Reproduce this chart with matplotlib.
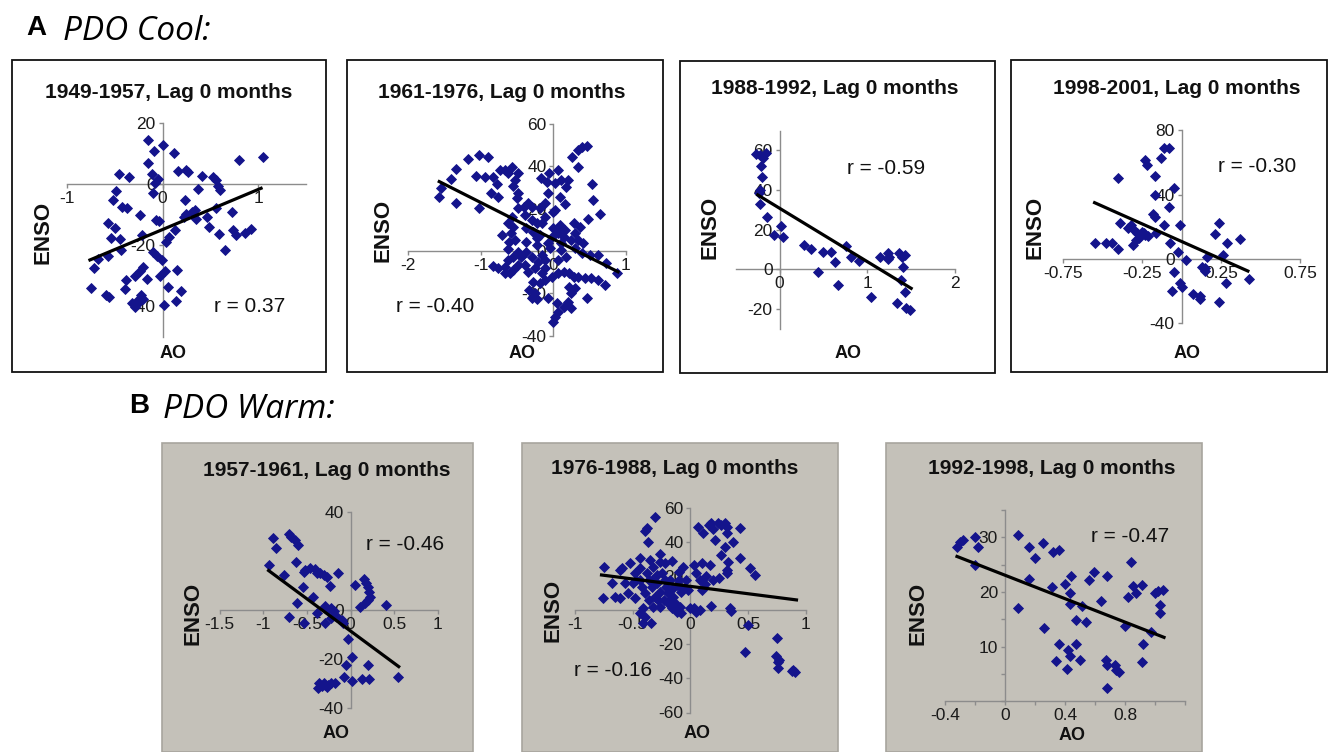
import matplotlib
matplotlib.use("Agg")
import matplotlib.pyplot as plt
from matplotlib.patches import Rectangle
from matplotlib.ticker import FixedLocator, NullFormatter

plt.rcParams['font.family'] = ['Liberation Sans', 'DejaVu Sans']

# ---------------- data ----------------
titles = ["1949-1957, Lag 0 months", "1961-1976, Lag 0 months", "1988-1992, Lag 0 months",
          "1998-2001, Lag 0 months", "1957-1961, Lag 0 months", "1976-1988, Lag 0 months",
          "1992-1998, Lag 0 months"]
r_labels = ["r = 0.37", "r = -0.40", "r = -0.59", "r = -0.30", "r = -0.46", "r = -0.16", "r = -0.47"]

a1_ao = [-0.15, 0.00, -0.09, 0.12, 1.05, 0.80, -0.15, 0.16, 0.24, 0.27, -0.46, -0.35, -0.11, 0.41,
         0.53, 0.56, -0.05, -0.08, 0.58, 0.60, 0.37, -0.49, -0.10, 0.23, -0.52, -0.42, -0.37, 0.56,
         0.73, 0.24, 0.31, 0.34, 0.22, 0.46, 0.35, -0.24, -0.07, -0.04, -0.57, 0.49, -0.50, 0.59,
         0.13, 0.74, 0.77, 0.86, 0.92, -0.54, -0.45, -0.22, 0.07, 0.04, 0.65, -0.44, -0.10, -0.06,
         -0.01, -0.68, -0.57, -0.72, -0.20, -0.24, -0.29, -0.38, -0.16, 0.02, -0.03, 0.15, -0.39,
         0.06, -0.75, -0.59, -0.56, 0.19, 0.14, -0.23, -0.20, -0.27, -0.29, 0.01, -0.32, -0.26]
a1_enso = [14.4, 12.8, 10.9, 10.3, 9.0, 7.9, 6.8, 4.4, 4.6, 3.8, 3.3, 2.4, 3.3, 2.6,
           2.2, 1.3, 1.5, 0.4, -0.7, -2.0, -1.7, -2.2, -3.1, -5.2, -5.2, -7.4, -8.0, -8.0,
           -9.1, -9.8, -9.1, -8.5, -10.7, -10.7, -11.6, -10.2, -11.8, -12.0, -12.7, -14.0, -14.5, -16.4,
           -15.1, -15.1, -16.7, -16.2, -14.9, -17.8, -18.1, -16.7, -17.3, -18.9, -21.6, -21.6, -22.2, -23.6,
           -24.9, -24.7, -23.6, -27.7, -27.1, -28.4, -30.2, -31.5, -31.3, -28.4, -30.2, -28.2, -34.5,
           -33.7, -34.2, -36.4, -36.9, -35.0, -38.3, -36.4, -37.8, -38.3, -40.2, -39.7, -39.1, -38.9]
a1_trend_ao = [-0.76, 1.03]
a1_trend_enso = [-24.9, -1.4]

a2_ao = [-1.57, -1.41, -1.54, -1.34, -1.17, -1.02, -0.90, -1.34, -1.06, -0.94, -0.83, -1.02, -0.86,
         -0.78, -0.73, -0.76, -0.67, -0.57, -0.62, -0.48, -0.53, -0.55, -0.48, -0.50, -0.41, -0.35,
         -0.48, -0.57, -0.63, -0.58, -0.53, -0.39, -0.30, -0.30, -0.37, -0.28, -0.18, -0.16, -0.17,
         -0.09, -0.06, 0.02, -0.08, -0.11, 0.02, 0.00, 0.07, 0.11, 0.18, 0.09, 0.16, 0.20, 0.26,
         0.34, 0.39, 0.47, 0.34, 0.53, 0.54, 0.64, 0.48, 0.29, 0.09, 0.00, 0.07, 0.14, 0.25, -0.07,
         -0.16, -0.23, -0.11, -0.05, 0.11, 0.18, 0.07, 0.30, 0.39, 0.50, 0.62, 0.73, 0.87, 0.71,
         0.62, 0.52, 0.44, 0.34, 0.46, 0.28, 0.21, 0.14, 0.07, -0.02, -0.11, -0.18, -0.28, -0.34,
         -0.25, -0.30, -0.23, -0.07, 0.05, 0.14, 0.20, 0.25, 0.07, 0.02, 0.00, 0.25, 0.30, 0.21,
         -0.48, -0.44, -0.48, -0.55, -0.63, -0.67, -0.55, -0.60, -0.67, -0.83, -0.76, -0.39, -0.35,
         -0.11, -0.25, -0.16, -0.21, -0.30, -0.37, -0.62, -0.61, -0.71, -0.55, -0.02, 0.16, 0.30,
         0.34, 0.41, 0.37, -0.18, -0.37, -0.23, 0.11, -0.12, -0.23]
a2_enso = [25.4, 33.9, 29.6, 22.5, 43.3, 45.4, 44.3, 38.6, 35.4, 35.1, 34.8, 20.5, 27.6,
           31.7, 38.3, 25.4, 38.3, 39.5, 36.7, 36.7, 33.5, 30.7, 27.6, 24.9, 21.0, 22.5,
           20.2, 16.2, 13.1, 8.3, 5.2, 17.0, 21.0, 14.6, 10.7, 9.1, 20.2, 13.1, 34.3,
           32.8, 36.7, 32.0, 27.2, 22.5, 19.4, 18.6, 38.3, 33.5, 30.4, 25.7, 22.2, 33.5, 44.3,
           47.7, 49.0, 49.6, 39.5, 31.7, 24.1, 17.5, 15.0, 13.1, 12.3, 10.7, 8.3, 6.8, 5.2, 3.6,
           -1.9, 2.8, -4.3, 1.3, 0.5, -2.7, -4.3, 1.3, -1.1, -1.9, -1.9, -5.8, -10.6, -16.1,
           -13.7, -12.9, -12.9, -12.1, -22.4, -12.1, -10.6, -9.8, -10.6, -12.1, -13.7, -15.3, -14.5, -18.4,
           -20.0, -22.4, -22.8, -22.4, -24.7, -26.3, -23.9, -27.1, -28.7, -31.0, -33.4, -20.0, -17.6, -16.9,
           -6.6, -2.7, -0.3, -2.7, -4.3, -7.4, -9.0, -10.6, -10.6, -7.1, -8.2, -6.6, -9.8,
           -8.2, -8.2, -10.6, -5.0, -2.7, -0.3, 0.8, 4.4, 7.6, 11.5, 6.8, 9.9, 8.3,
           5.2, 3.9, 11.5, 7.6, 4.4, 6.0, 3.6, 16.2, 13.1]
a2_trend_ao = [-1.57, 0.89]
a2_trend_enso = [32.8, -9.8]

a3_ao = [-0.27, -0.22, -0.16, -0.19, -0.21, -0.20, -0.22, -0.23, -0.22, -0.14, -0.07, 0.01, 0.04,
         0.28, 0.36, 0.44, 0.50, 0.59, 0.63, 0.66, 0.76, 0.81, 0.90, 1.04, 1.15, 1.24, 1.24, 1.25,
         1.36, 1.39, 1.41, 1.43, 1.38, 1.34, 1.43, 1.44, 1.49]
a3_enso = [58.2, 57.6, 58.8, 56.0, 52.1, 46.4, 40.0, 38.3, 32.9, 26.6, 17.3, 22.0, 16.5,
           12.3, 10.1, -1.2, 8.9, 8.9, 3.9, -7.9, 11.8, 6.4, 4.2, -14.1, 6.4, 8.4, 5.0, 6.4,
           8.1, 6.4, 1.3, 7.2, -5.4, -17.1, -11.3, -19.7, -20.5]
a3_trend_ao = [-0.25, 1.50]
a3_trend_enso = [37.5, -9.6]

a4_ao = [-0.55, -0.48, -0.44, -0.40, -0.40, -0.39, -0.34, -0.32, -0.31, -0.30, -0.29, -0.28, -0.27,
         -0.25, -0.24, -0.23, -0.21, -0.23, -0.22, -0.18, -0.17, -0.17, -0.17, -0.16, -0.13, -0.11,
         -0.08, -0.11, -0.08, -0.07, -0.05, -0.01, -0.05, -0.02, -0.06, -0.01, 0.00, 0.03, 0.07, 0.12,
         0.12, 0.13, 0.15, 0.15, 0.16, 0.21, 0.24, 0.24, 0.26, 0.28, 0.29, 0.37, 0.43]
a4_enso = [10.1, 9.7, 9.7, 6.0, 50.1, 22.2, 19.0, 21.1, 8.7, 18.0, 11.8, 15.9, 12.8,
           17.0, 15.9, 14.9, 14.3, 61.5, 58.4, 28.0, 25.9, 39.8, 51.6, 15.9, 62.5, 68.7,
           68.7, 21.1, 32.1, 10.1, 43.9, 21.1, -7.9, 4.6, -19.7, -15.1, -17.2, -0.6, -21.7, -23.0,
           -25.1, -5.2, -5.8, -7.2, 1.0, 15.3, 22.2, -26.5, 2.5, -14.7, 10.1, 12.4, -12.6]
a4_trend_ao = [-0.55, 0.42]
a4_trend_enso = [35.0, -7.5]

b1_ao = [-0.89, -0.71, -0.68, -0.64, -0.60, -0.85, -0.94, -0.63, -0.76, -0.54, -0.47, -0.52, -0.41,
         -0.39, -0.35, -0.31, -0.27, -0.14, -0.24, -0.55, -0.43, -0.61, -0.71, -0.53, -0.39, -0.29,
         -0.26, -0.22, -0.19, -0.29, -0.22, -0.16, -0.10, -0.09, -0.03, 0.01, -0.05, 0.05, 0.15,
         0.18, 0.20, 0.21, 0.22, 0.20, 0.16, 0.11, 0.40, 0.20, 0.54, 0.21, 0.13, 0.02, -0.08, -0.18,
         -0.22, -0.26, -0.29, -0.33, -0.36, -0.37, -0.31, -0.27]
b1_enso = [29.3, 31.0, 29.9, 28.6, 26.5, 25.2, 18.4, 19.7, 14.3, 15.6, 17.0, 16.3, 16.6,
           15.2, 15.0, 14.3, 13.6, 15.2, 9.8, 9.3, 5.2, 2.7, -2.7, -5.2, -1.4, 1.6,
           0.0, 0.7, -0.3, -5.2, -3.4, -2.7, -4.1, -5.4, -12.0, -19.0, -22.4, 10.2, 12.5,
           11.2, 9.5, 7.5, 5.4, 4.1, 2.7, 1.4, 2.0, -22.4, -27.2, -28.3, -28.3, -28.8, -27.5, -29.7,
           -29.9, -30.6, -30.6, -31.0, -29.9, -32.0, -29.7, -31.3]
b1_trend_ao = [-0.94, 0.55]
b1_trend_enso = [16.1, -23.1]

b2_ao = [-0.75, -0.76, -0.68, -0.65, -0.61, -0.59, -0.57, -0.54, -0.48, -0.48, -0.50, -0.47, -0.44,
         -0.42, -0.39, -0.36, -0.33, -0.32, -0.31, -0.29, -0.26, -0.25, -0.23, -0.21, -0.19, -0.18,
         -0.15, -0.12, -0.10, -0.08, -0.06, -0.04, -0.02, -0.09, -0.16, -0.19, -0.12, -0.08, -0.32,
         -0.36, -0.41, -0.44, -0.39, -0.34, -0.41, -0.38, -0.39, -0.31, -0.37, -0.26, -0.16, -0.26,
         -0.22, -0.35, -0.44, -0.52, -0.61, 0.03, 0.10, 0.05, 0.08, 0.14, 0.13, 0.10, 0.07, 0.11,
         0.16, 0.18, 0.20, 0.21, 0.24, 0.27, 0.30, 0.32, 0.32, 0.37, 0.43, 0.43, 0.30, 0.27, 0.33,
         0.32, 0.32, 0.25, 0.20, 0.17, 0.52, 0.56, 0.18, 0.34, 0.35, 0.08, 0.03, 0.05, 0.00, -0.10,
         -0.15, -0.07, -0.22, -0.29, -0.33, -0.38, -0.44, -0.28, -0.26, -0.18, -0.13, 0.50, 0.47,
         0.75, 0.74, 0.76, 0.76, 0.77, 0.88, 0.91, 0.89]
b2_enso = [25.4, 6.8, 15.6, 7.8, 6.8, 24.4, 15.6, 9.8, 6.8, 21.5, 15.6, 17.6, 24.4,
           13.7, 9.8, 17.6, 13.7, 25.4, 7.8, 15.6, 10.7, 21.5, 5.9, 13.7, 9.8, 17.6,
           7.8, 14.6, 22.4, 10.7, 25.4, 17.6, 11.7, 2.0, 1.0, 3.9, -1.0, -2.0, 2.0,
           5.9, 1.0, -2.0, -3.9, -7.8, -7.4, 48.2, 46.4, 54.2, 40.0, 32.8, 28.9, 28.3,
           27.3, 29.3, 30.2, 27.3, 23.4, 26.3, 27.3, 21.5, 17.6, 19.9, 15.2, 11.7, 48.4, 44.9,
           49.8, 51.1, 47.2, 41.0, 50.7, 49.8, 51.1, 48.4, 44.9, 40.0, 47.8, 30.2, 36.7, 32.2, 28.3,
           23.4, 21.5, 18.5, 17.6, 26.3, 24.4, 20.5, 2.3, 1.0, -0.4, 0.0, 1.0, -1.0, 1.0, 17.6,
           12.7, 12.7, 17.6, 20.5, 17.6, 21.5, 17.6, 5.9, 2.0, 5.9, 3.9, -8.8, -24.4,
           -16.6, -26.9, -30.2, -34.1, -29.3, -35.5, -36.1, -35.1]
b2_trend_ao = [-0.77, 0.92]
b2_trend_enso = [20.5, 5.9]

b3_ao = [-0.32, -0.30, -0.28, -0.20, -0.18, -0.20, 0.09, 0.16, 0.20, 0.25, 0.32, 0.36, 0.16,
         0.09, 0.31, 0.40, 0.44, 0.43, 0.43, 0.51, 0.56, 0.59, 0.64, 0.68, 0.54, 0.47, 0.26,
         0.36, 0.47, 0.42, 0.43, 0.34, 0.41, 0.50, 0.67, 0.68, 0.73, 0.74, 0.76, 0.68, 0.80,
         0.82, 0.84, 0.85, 0.87, 0.91, 0.92, 0.91, 0.97, 1.00, 1.03, 1.03, 1.02, 1.05]
b3_enso = [28.3, 29.2, 29.6, 30.0, 28.3, 24.9, 30.4, 28.3, 26.3, 29.0, 27.4, 27.7, 22.3,
           17.0, 21.0, 21.5, 22.9, 19.8, 17.8, 17.4, 22.2, 23.7, 18.4, 22.9, 14.6, 14.8, 13.4,
           10.5, 10.5, 9.4, 8.3, 7.3, 6.0, 7.6, 7.6, 6.6, 6.6, 5.7, 5.4, 2.4, 13.8,
           19.1, 25.4, 21.1, 19.9, 21.3, 10.5, 7.1, 12.6, 19.9, 17.6, 16.2, 20.1, 20.4]
b3_trend_ao = [-0.32, 1.06]
b3_trend_enso = [26.5, 11.7]

# axis ranges and tick values (Excel-style)
xlims = [(-1, 1.5), (-2, 1), (-0.5, 2), (-0.75, 0.75), (-1.5, 1), (-1, 1), (-0.4, 1.2)]
ylims = [(-50, 20), (-40, 60), (-30, 70), (-40, 80), (-40, 40), (-60, 60), (0, 35)]
xticks = [[-1, 0, 1], [-2, -1, 0, 1], [0, 1, 2], [-0.75, -0.25, 0.25, 0.75],
          [-1.5, -1, -0.5, 0, 0.5, 1], [-1, -0.5, 0, 0.5, 1], [-0.4, 0, 0.4, 0.8]]
xticklabels = [["-1", "0", "1"], ["-2", "-1", "0", "1"], ["0", "1", "2"],
               ["-0.75", "-0.25", "0.25", "0.75"], ["-1.5", "-1", "-0.5", "0", "0.5", "1"],
               ["-1", "-0.5", "0", "0.5", "1"], ["-0.4", "0", "0.4", "0.8"]]
yticks = [[20, 0, -20, -40], [60, 40, 20, 0, -20, -40], [60, 40, 20, 0, -20],
          [80, 40, 0, -40], [40, 0, -20, -40], [60, 40, 20, 0, -20, -40, -60], [10, 20, 30]]
yticklabels = [["20", "0", "-20", "-40"], ["60", "40", "20", "0", "-20", "-40"],
               ["60", "40", "20", "0", "-20"], ["80", "40", "0", "-40"],
               ["40", "0", "-20", "-40"], ["60", "40", "20", "0", "-20", "-40", "-60"],
               ["10", "20", "30"]]
b3_minor_x = [-0.2, 0.2, 0.6, 1.0, 1.2]
b3_minor_y = [0, 5, 15, 25, 35]

series = [(a1_ao, a1_enso, a1_trend_ao, a1_trend_enso),
          (a2_ao, a2_enso, a2_trend_ao, a2_trend_enso),
          (a3_ao, a3_enso, a3_trend_ao, a3_trend_enso),
          (a4_ao, a4_enso, a4_trend_ao, a4_trend_enso),
          (b1_ao, b1_enso, b1_trend_ao, b1_trend_enso),
          (b2_ao, b2_enso, b2_trend_ao, b2_trend_enso),
          (b3_ao, b3_enso, b3_trend_ao, b3_trend_enso)]

# ---------------- layout (pixel positions in a 1334x752 canvas) ----------------
W, H = 1334, 752
# plot area: left, right, top, bottom
plot_px = [(67, 306, 123, 336.5), (408, 626, 124, 335.7), (735.8, 955, 130.5, 328.8),
           (1063, 1300, 130.3, 323.3), (219.7, 438, 512, 708), (575, 805.7, 507.5, 712.5),
           (945, 1185, 510, 701.3)]
frame_px = [(12, 326, 60, 372), (347, 663, 60, 372), (680, 995, 61, 373), (1011, 1327, 60, 372),
            (162, 473, 443, 752), (522, 838, 443, 752), (886, 1202, 443, 752)]
title_px = [(169, 92), (502, 92), (835, 88), (1177, 88), (327, 470), (675, 468), (1052, 468)]
enso_px = [(43, 232), (383, 230), (710, 227), (1035, 227), (193, 613), (553, 610), (918, 613)]
ao_px = [(173, 353), (522, 353), (848, 353), (1187, 353), (336, 733), (697, 733), (1072, 735)]
r_px = [(250, 306), (435, 306), (886, 168), (1257, 167), (405, 545), (613, 670), (1130, 537)]


def fx(x):
    return x / W


def fy(y):
    return 1 - y / H


fig = plt.figure(figsize=(W / 100, H / 100), dpi=100)
fig.patch.set_facecolor('white')

marker_color = '#14148c'
axis_color = '#8c8c8c'
warm_bg = '#c4c1b9'

for i in range(7):
    # panel frame
    l, r, t, b = frame_px[i]
    if i < 4:
        rect = Rectangle((fx(l), fy(b)), fx(r) - fx(l), fy(t) - fy(b), transform=fig.transFigure,
                         facecolor='white', edgecolor='#111111', linewidth=1.3, zorder=0)
    else:
        rect = Rectangle((fx(l), fy(b)), fx(r) - fx(l), fy(t) - fy(b), transform=fig.transFigure,
                         facecolor=warm_bg, edgecolor='#a8a59e', linewidth=1.2, zorder=0)
    fig.add_artist(rect)

    pl, pr, pt, pb = plot_px[i]
    ax = fig.add_axes([fx(pl), fy(pb), fx(pr) - fx(pl), fy(pt) - fy(pb)])
    ax.set_facecolor('none')
    ax.set_xlim(*xlims[i])
    ax.set_ylim(*ylims[i])
    for s in ['top', 'right']:
        ax.spines[s].set_visible(False)
    ax.spines['left'].set_position(('data', 0))
    ax.spines['bottom'].set_position(('data', max(0, ylims[i][0])))
    for s in ['left', 'bottom']:
        ax.spines[s].set_color(axis_color)
        ax.spines[s].set_linewidth(1.0)
        ax.spines[s].set_zorder(1)
    ax.set_xticks(xticks[i])
    ax.set_xticklabels(xticklabels[i])
    ax.set_yticks(yticks[i])
    ax.set_yticklabels(yticklabels[i])
    if i == 6:
        ax.xaxis.set_minor_locator(FixedLocator(b3_minor_x))
        ax.yaxis.set_minor_locator(FixedLocator(b3_minor_y))
        ax.xaxis.set_minor_formatter(NullFormatter())
        ax.yaxis.set_minor_formatter(NullFormatter())
        ax.tick_params(which='minor', length=3, color=axis_color, direction='out', width=1)
    ax.tick_params(which='major', length=3, color=axis_color, direction='out', width=1,
                   labelsize=12.5, labelcolor='#1a1a1a', pad=2)

    xs, ys, txs, tys = series[i]
    ax.plot(xs, ys, linestyle='none', marker='D', markersize=4.7, color=marker_color,
            markeredgecolor=marker_color, markeredgewidth=0.6, zorder=4, clip_on=False)
    ax.plot(txs, tys, color='black', linewidth=2.3, zorder=5, clip_on=False)

    fig.text(fx(title_px[i][0]), fy(title_px[i][1]), titles[i], ha='center', va='center',
             fontsize=15, fontweight='bold', color='#111111')
    fig.text(fx(enso_px[i][0]), fy(enso_px[i][1]), "ENSO", ha='center', va='center',
             rotation=90, fontsize=16, fontweight='bold', color='#111111')
    fig.text(fx(ao_px[i][0]), fy(ao_px[i][1]), "AO", ha='center', va='center',
             fontsize=13, fontweight='bold', color='#111111')
    fig.text(fx(r_px[i][0]), fy(r_px[i][1]), r_labels[i], ha='center', va='center',
             fontsize=15, color='#111111')

# section headings
fig.text(fx(36), fy(28), "A", ha='center', va='center', fontsize=20, fontweight='bold',
         color='black')
fig.text(fx(63), fy(32), "PDO Cool:", ha='left', va='center', fontsize=24, style='italic',
         family=['Open Sans', 'DejaVu Sans'], color='black')
fig.text(fx(139), fy(406), "B", ha='center', va='center', fontsize=20, fontweight='bold',
         color='black')
fig.text(fx(163), fy(410), "PDO Warm:", ha='left', va='center', fontsize=24, style='italic',
         family=['Open Sans', 'DejaVu Sans'], color='black')

fig.savefig("out.png", dpi=100)
